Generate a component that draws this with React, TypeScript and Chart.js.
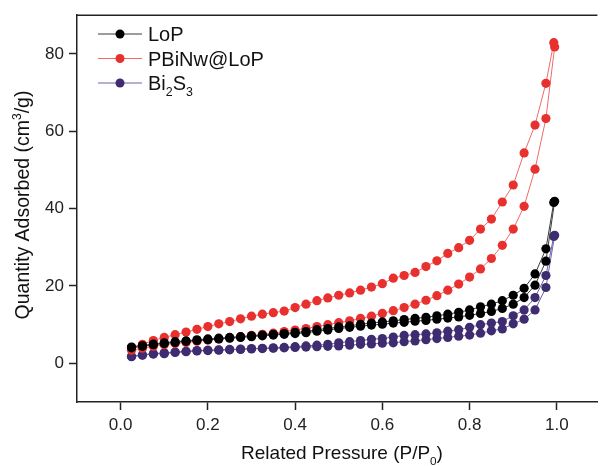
import React, { useEffect, useRef } from "react";
import { Chart, registerables } from "chart.js";
Chart.register(...registerables);

// Relative pressure grid (adsorption up, desorption down)
const pressureAds = [0.025, 0.05, 0.075, 0.1, 0.125, 0.15, 0.175, 0.2, 0.225, 0.25, 0.275, 0.3, 0.325, 0.35, 0.375, 0.4, 0.425, 0.45, 0.475, 0.5, 0.525, 0.55, 0.575, 0.6, 0.625, 0.65, 0.675, 0.7, 0.725, 0.75, 0.775, 0.8, 0.825, 0.85, 0.875, 0.9, 0.925, 0.95, 0.975, 0.995];
const pressureDes = [0.993, 0.975, 0.95, 0.925, 0.9, 0.875, 0.85, 0.825, 0.8, 0.775, 0.75, 0.725, 0.7, 0.675, 0.65, 0.625, 0.6, 0.575, 0.55, 0.525, 0.5, 0.475, 0.45, 0.425, 0.4, 0.375, 0.35, 0.325, 0.3, 0.275, 0.25, 0.225, 0.2, 0.175, 0.15, 0.125, 0.1, 0.075, 0.05, 0.025];

// LoP
const lopAds = [4.0, 4.4, 4.8, 5.1, 5.4, 5.7, 5.9, 6.1, 6.3, 6.5, 6.7, 6.9, 7.1, 7.3, 7.5, 7.7, 7.9, 8.3, 8.6, 9.0, 9.3, 9.6, 9.9, 10.1, 10.4, 10.6, 10.9, 11.1, 11.4, 11.7, 12.0, 12.4, 12.9, 13.4, 14.2, 15.3, 17.0, 20.2, 26.4, 41.9];
const lopDes = [41.6, 29.6, 23.1, 19.4, 17.6, 16.2, 15.3, 14.6, 13.8, 13.2, 12.7, 12.3, 11.9, 11.6, 11.3, 11.0, 10.7, 10.4, 10.1, 9.7, 9.4, 9.0, 8.7, 8.2, 8.0, 7.7, 7.5, 7.3, 7.1, 6.9, 6.7, 6.5, 6.3, 6.1, 5.8, 5.6, 5.3, 5.0, 4.6, 4.2];

// PBiNw@LoP
const pbiAds = [3.4, 3.9, 4.4, 4.8, 5.1, 5.4, 5.7, 6.0, 6.3, 6.6, 6.9, 7.2, 7.5, 7.8, 8.2, 8.6, 9.0, 9.5, 10.0, 10.5, 11.0, 11.6, 12.2, 12.9, 13.6, 14.4, 15.3, 16.3, 17.5, 18.9, 20.5, 22.3, 24.4, 27.1, 30.5, 34.7, 40.6, 50.2, 63.3, 81.8];
const pbiDes = [82.9, 72.4, 61.6, 54.4, 46.1, 41.7, 37.3, 34.7, 31.8, 29.9, 28.4, 26.5, 25.0, 23.5, 22.7, 22.0, 20.6, 19.7, 18.9, 18.2, 17.6, 16.9, 16.2, 15.3, 14.4, 13.5, 13.1, 12.7, 12.2, 11.5, 10.8, 10.2, 9.5, 8.8, 8.1, 7.4, 6.7, 5.9, 4.9, 4.1];

// Bi2S3
const bisAds = [1.7, 2.1, 2.4, 2.5, 2.8, 3.0, 3.2, 3.3, 3.4, 3.5, 3.6, 3.7, 3.8, 3.9, 4.0, 4.1, 4.2, 4.3, 4.4, 4.5, 4.7, 4.9, 5.0, 5.2, 5.3, 5.6, 5.8, 6.1, 6.4, 6.7, 7.0, 7.3, 7.8, 8.4, 8.9, 10.2, 11.4, 13.8, 19.6, 33.1];
const bisDes = [32.8, 22.7, 17.0, 13.8, 12.3, 10.8, 10.4, 10.0, 9.3, 8.7, 8.3, 7.9, 7.6, 7.4, 7.2, 6.8, 6.4, 6.2, 5.9, 5.6, 5.3, 4.9, 4.7, 4.5, 4.3, 4.1, 4.0, 3.9, 3.8, 3.7, 3.6, 3.5, 3.4, 3.3, 3.1, 2.9, 2.7, 2.5, 2.2, 1.8];

const xTicks = [0, 0.2, 0.4, 0.6, 0.8, 1.0];
const yTicks = [0, 20, 40, 60, 80];

type Seg = { t: string; s?: "sub" | "sup" };

const FONT = "'Liberation Sans', Arial, sans-serif";

function drawRich(ctx: CanvasRenderingContext2D, segs: Seg[], x: number, y: number, size: number, align: "left" | "center") {
  const small = size * 0.62;
  const widths = segs.map((g) => {
    ctx.font = `${g.s ? small : size}px ${FONT}`;
    return ctx.measureText(g.t).width;
  });
  const total = widths.reduce((a, b) => a + b, 0);
  let cx = align === "center" ? x - total / 2 : x;
  ctx.textAlign = "left";
  ctx.textBaseline = "alphabetic";
  segs.forEach((g, i) => {
    ctx.font = `${g.s ? small : size}px ${FONT}`;
    const dy = g.s === "sub" ? size * 0.3 : g.s === "sup" ? -size * 0.42 : 0;
    ctx.fillText(g.t, cx, y + dy);
    cx += widths[i];
  });
}

function toPoints(ps: number[], vs: number[]) {
  return ps.map((p, i) => ({ x: p, y: vs[i] }));
}

const series = [
  { label: [{ t: "LoP" }] as Seg[], ads: lopAds, des: lopDes, point: "#000000", line: "#3a3a3a" },
  { label: [{ t: "PBiNw@LoP" }] as Seg[], ads: pbiAds, des: pbiDes, point: "#e8302f", line: "#f06a6a" },
  { label: [{ t: "Bi" }, { t: "2", s: "sub" }, { t: "S" }, { t: "3", s: "sub" }] as Seg[], ads: bisAds, des: bisDes, point: "#3e2b70", line: "#6e62aa" },
];

export default function App() {
  const ref = useRef<HTMLCanvasElement | null>(null);
  useEffect(() => {
    if (!ref.current) return;
    const decor = {
      id: "decor",
      afterDraw(chart: any) {
        const ctx: CanvasRenderingContext2D = chart.ctx;
        const a = chart.chartArea;
        ctx.save();
        // top border
        ctx.strokeStyle = "#222";
        ctx.lineWidth = 1.5;
        ctx.beginPath();
        ctx.moveTo(a.left, a.top);
        ctx.lineTo(a.right, a.top);
        ctx.stroke();
        // legend
        const rows = [34, 58.5, 83];
        series.forEach((s, i) => {
          const y = rows[i];
          ctx.strokeStyle = s.line;
          ctx.lineWidth = 1;
          ctx.beginPath();
          ctx.moveTo(98, y);
          ctx.lineTo(142, y);
          ctx.stroke();
          ctx.fillStyle = s.point;
          ctx.beginPath();
          ctx.arc(120, y, 4.5, 0, Math.PI * 2);
          ctx.fill();
          ctx.fillStyle = "#111";
          drawRich(ctx, s.label, 148, y + 7, 20, "left");
        });
        // x title
        ctx.fillStyle = "#111";
        drawRich(ctx, [{ t: "Related Pressure (P/P" }, { t: "0", s: "sub" }, { t: ")" }], 342, 459, 19, "center");
        // y title
        ctx.save();
        ctx.translate(29, 205);
        ctx.rotate(-Math.PI / 2);
        drawRich(ctx, [{ t: "Quantity Adsorbed (cm" }, { t: "3", s: "sup" }, { t: "/g)" }], 0, 0, 19.5, "center");
        ctx.restore();
        ctx.restore();
      },
    };
    const chart = new Chart(ref.current, {
      type: "line",
      data: {
        datasets: series.map((s) => ({
          label: s.label.map((g) => g.t).join(""),
          data: [...toPoints(pressureAds, s.ads), ...toPoints(pressureDes, s.des)],
          borderColor: s.line,
          borderWidth: 1,
          backgroundColor: s.point,
          pointBackgroundColor: s.point,
          pointBorderColor: s.point,
          pointBorderWidth: 0,
          pointRadius: 4.6,
          tension: 0,
          fill: false,
        })),
      },
      options: {
        animation: false,
        responsive: false,
        parsing: false as any,
        layout: { padding: { top: 8, right: 0, left: 0, bottom: 0 } },
        plugins: { legend: { display: false }, tooltip: { enabled: false } },
        scales: {
          x: {
            type: "linear",
            min: -0.1,
            max: 1.093,
            afterBuildTicks: (scale: any) => {
              scale.ticks = xTicks.map((v) => ({ value: v }));
            },
            afterFit: (scale: any) => {
              scale.height = 64;
            },
            grid: { display: true, drawOnChartArea: false, drawTicks: true, tickLength: 8, tickColor: "#222", tickWidth: 1.5 },
            border: { display: true, color: "#222", width: 1.5 },
            ticks: {
              padding: 5,
              color: "#222",
              font: { family: FONT, size: 17 },
              callback: (v: any) => Number(v).toFixed(1),
            },
          },
          y: {
            type: "linear",
            min: -10,
            max: 90,
            afterBuildTicks: (scale: any) => {
              scale.ticks = yTicks.map((v) => ({ value: v }));
            },
            afterFit: (scale: any) => {
              scale.width = 77;
            },
            grid: { display: true, drawOnChartArea: false, drawTicks: true, tickLength: 8, tickColor: "#222", tickWidth: 1.5 },
            border: { display: true, color: "#222", width: 1.5 },
            ticks: {
              padding: 5,
              color: "#222",
              font: { family: FONT, size: 17 },
              callback: (v: any) => String(v),
            },
          },
        },
      },
      plugins: [decor],
    } as any);
    return () => chart.destroy();
  }, []);
  return (
    <div style={{ position: "absolute", left: 0, top: 0, width: 602, height: 466, background: "#fff" }}>
      <canvas ref={ref} width={602} height={466} style={{ display: "block" }} />
    </div>
  );
}
